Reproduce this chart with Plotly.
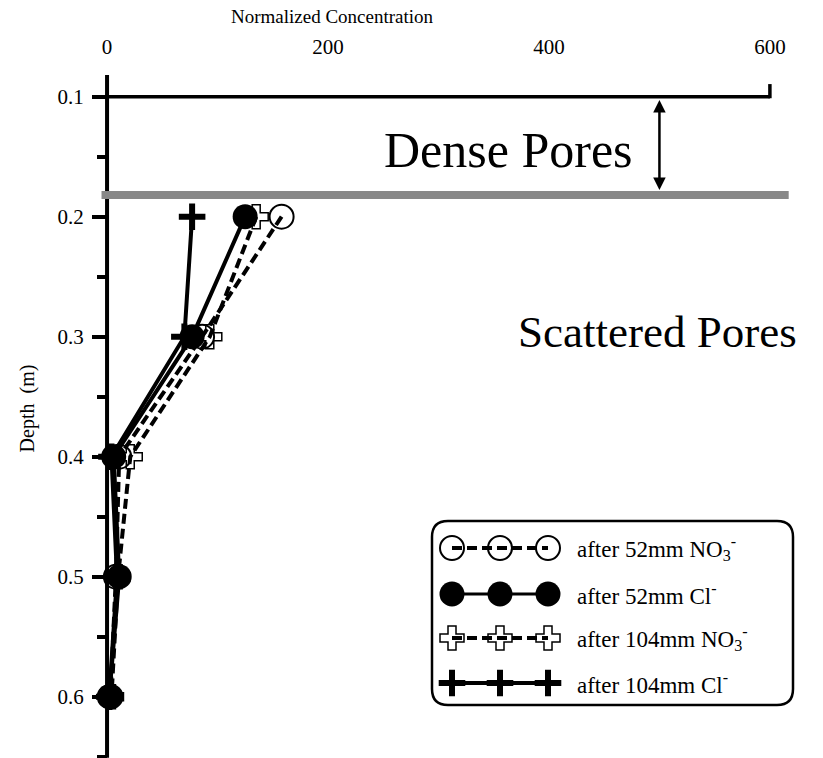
import plotly.graph_objects as go

# ---------------- data ----------------
depth = [0.2, 0.3, 0.4, 0.5, 0.6]
no3_52 = [158, 86, 11, 8, 3]
cl_52 = [125, 77, 6, 11, 2]
no3_104 = [135, 93, 21, 10, 4]
cl_104 = [77, 70, 4, 9, 2]

x_ticks = [0, 200, 400, 600]
y_ticks = [0.1, 0.2, 0.3, 0.4, 0.5, 0.6]
y_ticktext = ["0.1", "0.2", "0.3", "0.4", "0.5", "0.6"]
y_minor = [0.15, 0.25, 0.35, 0.45, 0.55, 0.65]

series_names = [
    "after 52mm NO<sub>3</sub><sup>-</sup>",
    "after 52mm Cl<sup>-</sup>",
    "after 104mm NO<sub>3</sub><sup>-</sup>",
    "after 104mm Cl<sup>-</sup>",
]

dense_boundary = 0.182   # depth of the dense/scattered pores boundary
arrow_x = 500

FONT = "Liberation Serif"
W, H = 823, 758
L, R, T, B = 96, 31, 59, 0
XR = [-10, 620]
YR = [0.6511, 0.0686]
PH = H - T - B  # plot height in px
PW = W - L - R


def py(pix):  # vertical pixel -> paper fraction
    return 1 - (pix - T) / PH


def px(pix):  # horizontal pixel -> paper fraction
    return (pix - L) / PW


DASH = "10px,5px"
styles = {
    "no3_52": dict(sym="circle-open", size=24, mlw=2, dash=DASH, lw=4),
    "cl_52": dict(sym="circle", size=25, mlw=0, dash="solid", lw=4),
    "no3_104": dict(sym="cross-open", size=20, mlw=1.5, dash=DASH, lw=4),
    "cl_104": dict(sym="cross-thin", size=19, mlw=6, dash="solid", lw=4),
}

fig = go.Figure()

order = [("no3_52", no3_52, 0), ("no3_104", no3_104, 2), ("cl_104", cl_104, 3), ("cl_52", cl_52, 1)]
for key, vals, idx in order:
    s = styles[key]
    fig.add_trace(go.Scatter(
        x=vals, y=depth, mode="lines+markers", name=series_names[idx],
        line=dict(color="black", width=s["lw"], dash=s["dash"]),
        marker=dict(symbol=s["sym"], size=s["size"], color="black",
                    line=dict(color="black", width=s["mlw"])),
        cliponaxis=False, showlegend=False,
    ))

# ---- custom legend (three sample markers per row) on an overlay axis in paper units ----
leg_rows = [py(548), py(594), py(638), py(683)]
leg_xs = [px(452), px(500), px(548)]
leg_keys = ["no3_52", "cl_52", "no3_104", "cl_104"]
leg_lw = {"no3_52": 4, "cl_52": 3, "no3_104": 4, "cl_104": 4}
for key, ry in zip(leg_keys, leg_rows):
    s = styles[key]
    fig.add_trace(go.Scatter(
        x=leg_xs, y=[ry] * 3, xaxis="x2", yaxis="y2", mode="lines+markers",
        line=dict(color="black", width=leg_lw[key], dash=s["dash"]),
        marker=dict(symbol=s["sym"], size=s["size"], color="black",
                    line=dict(color="black", width=s["mlw"])),
        cliponaxis=False, showlegend=False, hoverinfo="skip",
    ))

annotations = []
for name, ry in zip(series_names, leg_rows):
    annotations.append(dict(
        x=px(575), y=ry, xref="paper", yref="paper", text=name, showarrow=False,
        xanchor="left", yanchor="middle", font=dict(family=FONT, size=23, color="black"),
    ))

# legend box with rounded corners (paper coords)
x0, x1, y0, y1 = px(432), px(793), py(705), py(521)
rx, ry_ = 16 / PW, 16 / PH
box_path = (f"M {x0+rx},{y1} L {x1-rx},{y1} Q {x1},{y1} {x1},{y1-ry_} "
            f"L {x1},{y0+ry_} Q {x1},{y0} {x1-rx},{y0} L {x0+rx},{y0} "
            f"Q {x0},{y0} {x0},{y0+ry_} L {x0},{y1-ry_} Q {x0},{y1} {x0+rx},{y1} Z")

shapes = [
    # vertical depth axis line at x = 0
    dict(type="line", xref="x", yref="y", x0=0, x1=0, y0=0.082, y1=0.6508,
         line=dict(color="black", width=4)),
    # top horizontal line at depth 0.1
    dict(type="line", xref="x", yref="y", x0=0, x1=600, y0=0.1, y1=0.1,
         line=dict(color="black", width=3.5)),
    dict(type="line", xref="x", yref="y", x0=600, x1=600, y0=0.1013, y1=0.0895,
         line=dict(color="black", width=3.5)),
    # dense / scattered boundary band
    dict(type="line", xref="x", yref="y", x0=-5, x1=617, y0=dense_boundary, y1=dense_boundary,
         line=dict(color="#888888", width=8)),
    dict(type="path", xref="paper", yref="paper", path=box_path,
         line=dict(color="black", width=2.5), fillcolor="rgba(0,0,0,0)"),
]

annotations += [
    dict(x=px(332), y=py(17), xref="paper", yref="paper", text="Normalized Concentration",
         showarrow=False, xanchor="center", yanchor="middle",
         font=dict(family=FONT, size=19, color="black")),
    dict(x=363, y=0.1444, xref="x", yref="y", text="Dense Pores", showarrow=False,
         xanchor="center", yanchor="middle", font=dict(family=FONT, size=50, color="black")),
    dict(x=498.5, y=0.2962, xref="x", yref="y", text="Scattered Pores", showarrow=False,
         xanchor="center", yanchor="middle", font=dict(family=FONT, size=45, color="black")),
    dict(x=arrow_x, y=dense_boundary - 0.0042, ax=arrow_x, ay=0.1015, xref="x", yref="y",
         axref="x", ayref="y", text="", showarrow=True, arrowhead=2, startarrowhead=2,
         arrowside="end+start", arrowwidth=2.5, arrowsize=1, startarrowsize=1, arrowcolor="black"),
]

fig.update_layout(
    width=W, height=H, margin=dict(l=L, r=R, t=T, b=B),
    paper_bgcolor="white", plot_bgcolor="white",
    font=dict(family=FONT, color="black"),
    xaxis=dict(
        range=XR, side="top", domain=[0, 1], anchor="y",
        tickvals=x_ticks, ticktext=[str(v) for v in x_ticks], ticks="",
        showline=False, showgrid=False, zeroline=False,
        tickfont=dict(family=FONT, size=21, color="black"),
    ),
    yaxis=dict(
        range=YR, anchor="free", position=10 / 630, domain=[0, 1],
        tickvals=y_ticks, ticktext=y_ticktext, ticks="outside", ticklen=15, tickwidth=3.5,
        tickcolor="black", ticklabelstandoff=4,
        minor=dict(tickvals=y_minor, ticks="outside", ticklen=10, tickwidth=3.5, tickcolor="black"),
        showline=False, showgrid=False, zeroline=False,
        tickfont=dict(family=FONT, size=21, color="black"),
        title=dict(text="Depth  (m)", standoff=16, font=dict(family=FONT, size=20, color="black")),
    ),
    xaxis2=dict(range=[0, 1], domain=[0, 1], overlaying="x", visible=False, anchor="y2"),
    yaxis2=dict(range=[0, 1], domain=[0, 1], overlaying="y", visible=False, anchor="x2"),
    shapes=shapes, annotations=annotations, showlegend=False,
)

fig.write_html("out.html")
